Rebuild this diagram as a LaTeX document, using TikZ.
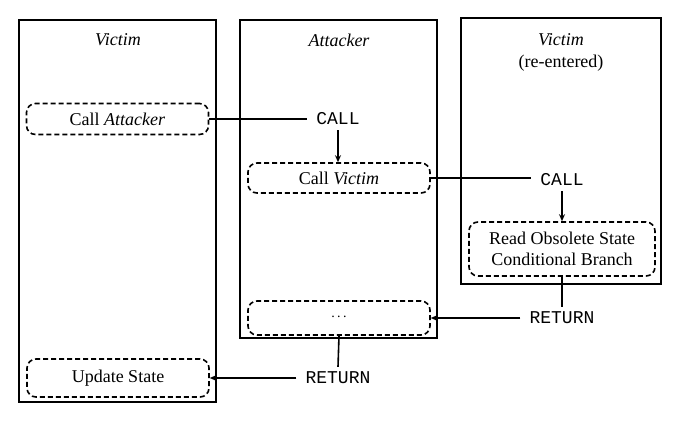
\documentclass[tikz,border=0pt]{standalone}
\usepackage{fontspec}
\setmainfont{Liberation Serif}
\setmonofont{Liberation Mono}
\usetikzlibrary{arrows.meta}
\begin{document}
\begin{tikzpicture}[x=1pt,y=-1pt,
  every node/.style={font=\fontsize{18}{21}\selectfont},
  lane/.style={draw,line width=1.8pt,minimum width=#1,inner sep=0pt},
  stepbox/.style={draw,line width=1.6pt,dash pattern=on 5pt off 3pt,rounded corners=9pt,inner sep=0pt,minimum height=#1,minimum width=182pt,align=center},
  op/.style={font=\fontsize{18}{21}\selectfont\ttfamily,inner xsep=9pt,inner ysep=5pt},
  conn/.style={line width=1.6pt},
  arr/.style={conn,-{Stealth[length=7pt,width=6pt]}}]
\useasboundingbox (0,0) rectangle (681,421);
% lanes
\node[lane=197pt,minimum height=382pt] (v1) at (117.5,211) {};
\node[lane=197pt,minimum height=318pt] (att) at (338.5,179) {};
\node[lane=200pt,minimum height=266pt] (v2) at (561,151) {};
% titles
\node (t1) at (118,40) {\itshape Victim};
\node (t2) at (339,40) {\itshape Attacker};
\node (t3) at (561,40) {\itshape Victim};
\node (t3b) at (561,63) {(re-entered)};
% steps
\node[stepbox=31pt] (ca) at (117.5,119) {Call \textit{Attacker}};
\node[stepbox=30pt] (cv) at (339,178) {Call \textit{Victim}};
\node[stepbox=54pt,minimum width=186pt] (rd) at (562,249) {Read Obsolete State\\Conditional Branch};
\node[stepbox=34pt] (dots) at (339,318) {\raisebox{3pt}{\fontsize{14}{15}\selectfont.\,.\,.}};
\node[stepbox=38pt] (us) at (118,378) {Update State};
% operations
\node[op] (call1) at (338,119) {CALL};
\node[op] (call2) at (562,180) {CALL};
\node[op] (ret1) at (562,318) {RETURN};
\node[op] (ret2) at (338,378) {RETURN};
% connectors
\draw[conn] (ca.east) -- (call1.west);
\draw[arr] (call1.south) -- (call1.south |- cv.north);
\draw[conn] (cv.east) -- (call2.west |- cv.east);
\draw[arr] (call2.south) -- (rd.north);
\draw[conn] (rd.south) -- (ret1.north);
\draw[arr] (ret1.west) -- (dots.east);
\draw[conn] (dots.south) -- (ret2.north);
\draw[arr] (ret2.west) -- (us.east);
\end{tikzpicture}
\end{document}
